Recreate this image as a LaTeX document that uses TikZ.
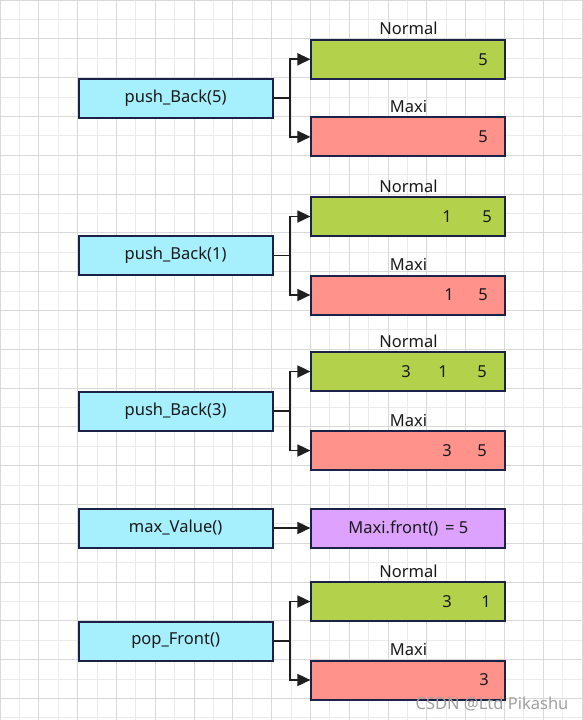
\documentclass[tikz,border=0pt]{standalone}
\usepackage{fontspec}
\setmainfont{Noto Sans}
\usetikzlibrary{arrows.meta,calc}
\definecolor{opc}{HTML}{A6EFFD}
\definecolor{normc}{HTML}{B3D14B}
\definecolor{maxc}{HTML}{FF928B}
\definecolor{resc}{HTML}{DCA2FE}
\definecolor{bordc}{HTML}{1C2148}
\definecolor{txt}{HTML}{1A1A1A}
\definecolor{gminor}{HTML}{EBEBEB}
\definecolor{gmajor}{HTML}{D9D9D9}
\definecolor{wmark}{HTML}{A0A0A0}
\begin{document}
\begin{tikzpicture}[x=1pt,y=-1pt,
  box/.style={draw=bordc, line width=2pt, minimum width=194pt, minimum height=39pt,
    inner sep=0pt, anchor=north west, font=\fontsize{16.5}{18}\selectfont, text=txt},
  opbox/.style={box, fill=opc},
  normbox/.style={box, fill=normc},
  maxbox/.style={box, fill=maxc},
  resbox/.style={box, fill=resc},
  lab/.style={inner sep=0pt, anchor=base, font=\fontsize{16.5}{18}\selectfont, text=txt},
  num/.style={inner sep=0pt, font=\fontsize{16.5}{18}\selectfont, text=txt},
  conn/.style={draw=black!88, line width=1.8pt},
  arr/.style={conn, -{Triangle[length=13pt,width=12pt]}},
  minorline/.style={draw=gminor, line width=0.8pt},
  majorline/.style={draw=gmajor, line width=0.9pt}
]
\useasboundingbox (0,0) rectangle (582,720);
\fill[white] (0,0) rectangle (582,720);
% grid
\foreach \i in {1,3,...,29} \draw[minorline] (\i*19.4,0) -- (\i*19.4,720);
\foreach \j in {1,3,...,37} \draw[minorline] (0,\j*19.4) -- (582,\j*19.4);
\foreach \i in {0,2,...,30} \draw[majorline] (\i*19.4,0) -- (\i*19.4,720);
\foreach \j in {0,2,...,36} \draw[majorline] (0,\j*19.4) -- (582,\j*19.4);

% row 1
\node[opbox] (op1) at (77.6,77.6) {push\_Back(5)};
\node[normbox] (n1) at (310.4,38.8) {};
\node[maxbox] (m1) at (310.4,116.4) {};
% row 2
\node[opbox] (op2) at (77.6,235) {push\_Back(1)};
\node[normbox] (n2) at (310.4,196) {};
\node[maxbox] (m2) at (310.4,274.5) {};
% row 3
\node[opbox] (op3) at (77.6,390.5) {push\_Back(3)};
\node[normbox] (n3) at (310.4,351) {};
\node[maxbox] (m3) at (310.4,430) {};
% row 4
\node[opbox] (op4) at (77.6,507.5) {max\_Value()};
\node[resbox] (r4) at (310.4,507.5) {Maxi.front()\, = 5};
% row 5
\node[opbox] (op5) at (77.6,620.5) {pop\_Front()};
\node[normbox] (n5) at (310.4,581) {};
\node[maxbox] (m5) at (310.4,659.5) {};

% labels
\foreach \b in {n1,n2,n3,n5} \node[lab] (l\b) at ($(\b.north)+(0,-4)$) {Normal};
\foreach \b in {m1,m2,m3,m5} \node[lab] (l\b) at ($(\b.north)+(0,-4)$) {Maxi};

% values
\node[num] (v1a) at ([xshift=172.6pt]n1.west) {5};
\node[num] (v1b) at ([xshift=172.6pt]m1.west) {5};
\node[num] (v2a) at ([xshift=136.6pt]n2.west) {1};
\node[num] (v2b) at ([xshift=176.6pt]n2.west) {5};
\node[num] (v2c) at ([xshift=138.6pt]m2.west) {1};
\node[num] (v2d) at ([xshift=172.6pt]m2.west) {5};
\node[num] (v3a) at ([xshift=95.6pt]n3.west) {3};
\node[num] (v3b) at ([xshift=132.6pt]n3.west) {1};
\node[num] (v3c) at ([xshift=171.6pt]n3.west) {5};
\node[num] (v3d) at ([xshift=136.6pt]m3.west) {3};
\node[num] (v3e) at ([xshift=171.6pt]m3.west) {5};
\node[num] (v5a) at ([xshift=136.6pt]n5.west) {3};
\node[num] (v5b) at ([xshift=175.6pt]n5.west) {1};
\node[num] (v5c) at ([xshift=173.6pt]m5.west) {3};

% connectors
\foreach \r in {1,2,3,5}{
  \coordinate (b\r) at ([xshift=16pt]op\r.east);
  \draw[conn] (op\r.east) -- (b\r);
  \draw[arr] (b\r) |- (n\r.west);
  \draw[arr] (b\r) |- (m\r.west);
}
\draw[arr] (op4.east) -- (r4.west);

% watermark
\node[inner sep=0pt, text=wmark, font=\fontsize{16.5}{18}\selectfont] (wm) at (492,704) {CSDN @Ltd Pikashu};
\end{tikzpicture}
\end{document}
